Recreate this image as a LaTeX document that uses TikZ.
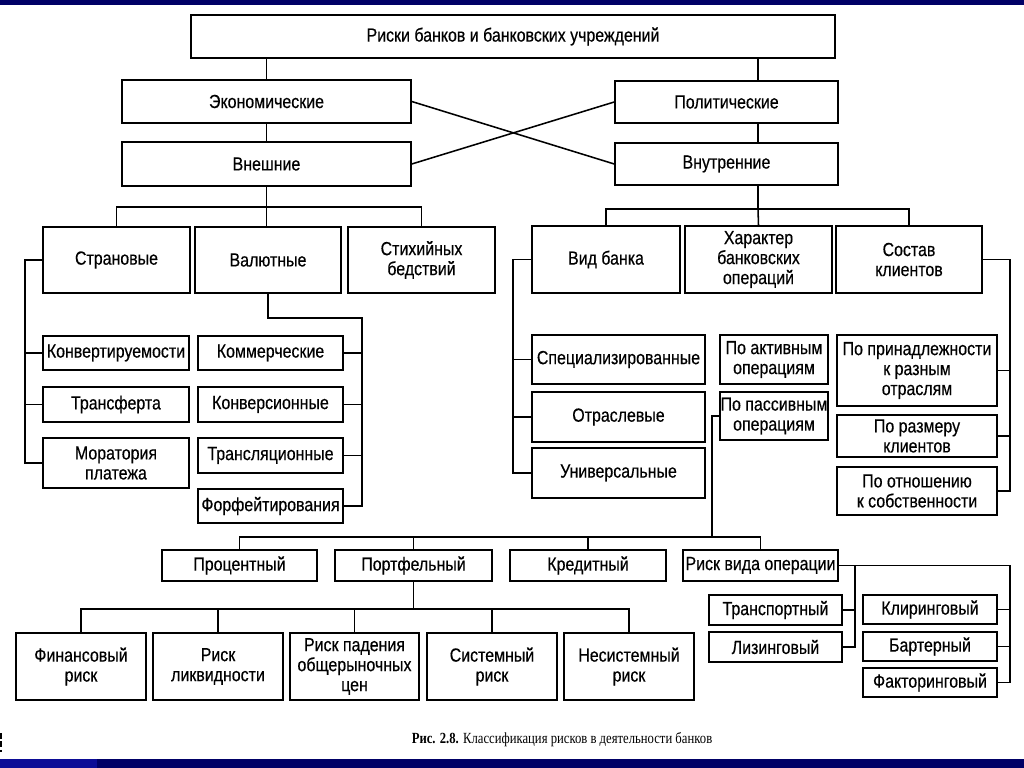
\documentclass[tikz,border=0pt]{standalone}
\usepackage{fontspec}
\setmainfont{Liberation Sans}[FakeStretch=0.84, FakeBold=0.4]
\newfontfamily\legende{Liberation Serif}[FakeStretch=0.82]
\definecolor{bandeau}{RGB}{0,0,102}
\definecolor{bandeauclair}{RGB}{12,12,150}
\tikzset{boite/.style 2 args={draw, line width=1.1pt, align=center, inner sep=0pt,
  minimum width=#1*0.025cm, minimum height=#2*0.025cm, font=\fontsize{13.5}{14.2}\selectfont},
  lien/.style={line width=1.1pt}}

\begin{document}
\begin{tikzpicture}[x=0.025cm,y=-0.025cm]
\useasboundingbox (0,0) rectangle (1024,768);
\fill[bandeau] (0,0) rectangle (1024,5);
\fill[bandeau] (0,759) rectangle (1024,768);
\fill[bandeauclair] (0,759) rectangle (97,768);
\draw[line width=2pt, dash pattern=on 4pt off 2pt] (1,733) -- (1,752);
% niveaux superieurs
\node[boite={644}{43}] (risq) at (513,36.5) {Риски банков и банковских учреждений};
\node[boite={289}{43}] (econ) at (266.5,101.5) {Экономические};
\node[boite={289}{44}] (ext) at (266.5,164) {Внешние};
\node[boite={223}{42}] (polit) at (726.5,102) {Политические};
\node[boite={223}{42}] (int) at (726.5,164) {Внутренние};
\coordinate (g) at (266.5,0);
\coordinate (d) at (758,0);
\draw[lien] (risq.south -| g) -- (econ.north);
\draw[lien] (econ.south) -- (ext.north);
\draw[lien] (risq.south -| d) -- (polit.north -| d);
\draw[lien] (polit.south -| d) -- (int.north -| d);
\draw[lien] (econ.east) -- (int.west);
\draw[lien] (ext.east) -- (polit.west);
% risques externes
\node[boite={147}{66}] (pays) at (116.5,260) {Страновые};
\node[boite={146}{66}] (devise) at (268,260) {Валютные};
\node[boite={147}{66}] (catas) at (421.5,260) {Стихийных\\бедствий};
\draw[lien] (ext.south) -- ++(0,20) coordinate (b1);
\draw[lien] (pays.north) |- (b1) -| (catas.north);
\draw[lien] (b1) -- (b1 |- devise.north);
% risques internes
\node[boite={148}{67}] (type) at (606,259.5) {Вид банка};
\node[boite={147}{67}] (carac) at (758.5,259.5) {Характер\\банковских\\операций};
\node[boite={146}{67}] (client) at (909,259.5) {Состав\\клиентов};
\draw[lien] (int.south -| d) -- ++(0,23) coordinate (b2);
\draw[lien] (type.north) |- (b2) -| (client.north);
\draw[lien] (b2) -- (carac.north);
% sous-groupes Страновые
\node[boite={146}{34}] (conv) at (116,353) {Конвертируемости};
\node[boite={146}{35}] (transf) at (116,404.5) {Трансферта};
\node[boite={146}{50}] (morat) at (116,463) {Моратория\\платежа};
\coordinate (sg) at (25,0);
\draw[lien] (pays.west) -| (sg |- morat.west) -- (morat.west);
\draw[lien] (sg |- conv.west) -- (conv.west);
\draw[lien] (sg |- transf.west) -- (transf.west);
% sous-groupes Валютные
\node[boite={145}{34}] (comm) at (270.5,353) {Коммерческие};
\node[boite={145}{35}] (convers) at (270.5,404.5) {Конверсионные};
\node[boite={145}{35}] (transl) at (270.5,455.5) {Трансляционные};
\node[boite={145}{34}] (forf) at (270.5,506) {Форфейтирования};
\coordinate (sv) at (362,318);
\draw[lien] (devise.south) |- (sv) |- (forf.east);
\draw[lien] (sv |- comm.east) -- (comm.east);
\draw[lien] (sv |- convers.east) -- (convers.east);
\draw[lien] (sv |- transl.east) -- (transl.east);
% sous-groupes Вид банка
\node[boite={173}{49}] (spec) at (618.5,359.5) {Специализированные};
\node[boite={173}{50}] (branche) at (618.5,417) {Отраслевые};
\node[boite={173}{50}] (univ) at (618.5,473) {Универсальные};
\coordinate (st) at (513,0);
\draw[lien] (type.west) -| (st |- univ.west) -- (univ.west);
\draw[lien] (st |- spec.west) -- (spec.west);
\draw[lien] (st |- branche.west) -- (branche.west);
% operations
\node[boite={108}{49}] (actif) at (774,359.5) {По активным\\операциям};
\node[boite={108}{48}] (passif) at (774,416) {По пассивным\\операциям};
% clients
\node[boite={160}{71}] (appart) at (917,370.5) {По принадлежности\\к разным\\отраслям};
\node[boite={160}{42}] (taille) at (917,436) {По размеру\\клиентов};
\node[boite={160}{48}] (propr) at (917,491) {По отношению\\к собственности};
\coordinate (sc) at (1010,0);
\draw[lien] (client.east) -| (sc |- propr.east) -- (propr.east);
\draw[lien] (sc |- appart.east) -- (appart.east);
\draw[lien] (sc |- taille.east) -- (taille.east);
% rangee des risques
\node[boite={155}{31}] (taux) at (239.5,565.5) {Процентный};
\node[boite={157}{31}] (portf) at (413.5,565.5) {Портфельный};
\node[boite={156}{31}] (credit) at (588,565.5) {Кредитный};
\node[boite={155}{31}] (oper) at (760.5,565.5) {Риск вида операции};
\coordinate (so) at (712,537);
\draw[lien] (passif.west) -| (so);
\draw[lien] (taux.north) |- (so) -| (oper.north);
\draw[lien] (portf.north) -- (portf.north |- so);
\draw[lien] (credit.north) -- (credit.north |- so);
% risques de portefeuille
\node[boite={130}{67}] (fin) at (81,666.5) {Финансовый\\риск};
\node[boite={130}{67}] (liq) at (218,666.5) {Риск\\ликвидности};
\node[boite={129}{67}] (chute) at (354.5,666.5) {Риск падения\\общерыночных\\цен};
\node[boite={130}{67}] (syst) at (492,666.5) {Системный\\риск};
\node[boite={130}{67}] (nsyst) at (629,666.5) {Несистемный\\риск};
\draw[lien] (portf.south) -- ++(0,27) coordinate (b3);
\draw[lien] (fin.north) |- (b3) -| (nsyst.north);
\draw[lien] (liq.north) -- (liq.north |- b3);
\draw[lien] (chute.north) -- (chute.north |- b3);
\draw[lien] (syst.north) -- (syst.north |- b3);
% types d'operation
\node[boite={133}{30}] (transp) at (775.5,610) {Транспортный};
\node[boite={133}{30}] (leasing) at (775.5,647) {Лизинговый};
\node[boite={134}{29}] (clear) at (930,609.5) {Клиринговый};
\node[boite={134}{29}] (troc) at (930,646.5) {Бартерный};
\node[boite={134}{29}] (fact) at (930,682.5) {Факторинговый};
\coordinate (sl) at (855,0);
\draw[lien] (oper.east) -| (sc |- fact.east) -- (fact.east);
\draw[lien] (sl |- oper.east) |- (leasing.east);
\draw[lien] (sl |- transp.east) -- (transp.east);
\draw[lien] (sc |- clear.east) -- (clear.east);
\draw[lien] (sc |- troc.east) -- (troc.east);
\node[font=\legende\fontsize{11}{12}\selectfont] (titre) at (562,740)
  {\textbf{Рис. 2.8.} Классификация рисков в деятельности банков};
\end{tikzpicture}
\end{document}
